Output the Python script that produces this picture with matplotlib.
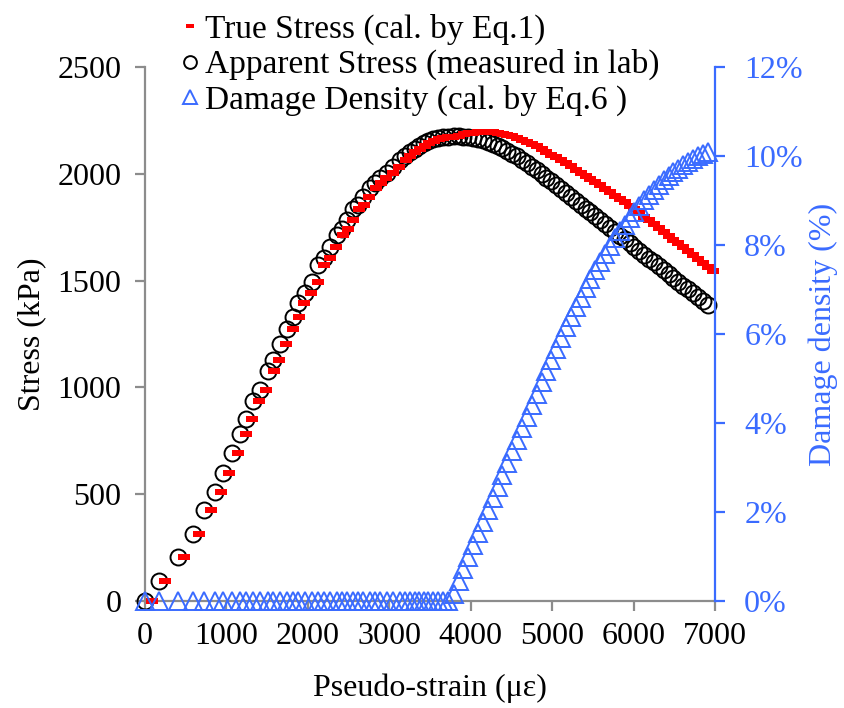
import numpy as np
import matplotlib
matplotlib.use('Agg')
import matplotlib.pyplot as plt
from matplotlib.ticker import FuncFormatter

plt.rcParams['font.family'] = ['Liberation Serif', 'DejaVu Serif']

# 数据--视应变 / 应力 / 损伤密度
strain_app = [0, 170, 400, 590, 730, 860, 960, 1068, 1167, 1240, 1326, 1412, 1510, 1572, 1658,
              1744, 1818, 1880, 1965, 2051, 2125, 2198, 2272, 2358, 2419, 2481, 2554, 2616, 2677,
              2763, 2825, 2886, 2972, 3046, 3132, 3193, 3254, 3310, 3370, 3425, 3480, 3540, 3600,
              3660, 3720, 3790, 3850, 3910, 3970, 4030, 4090, 4150, 4210, 4270, 4330, 4390, 4450,
              4510, 4570, 4630, 4690, 4750, 4810, 4870, 4930, 4990, 5050, 5110, 5170, 5230, 5290,
              5350, 5410, 5470, 5530, 5590, 5650, 5710, 5770, 5830, 5890, 5950, 6010, 6070, 6130,
              6190, 6250, 6310, 6370, 6430, 6490, 6550, 6610, 6670, 6730, 6790, 6850, 6910]
stress_app = [0, 95, 206, 314, 426, 510, 600, 693, 782, 852, 935, 990, 1078, 1128, 1205,
              1273, 1330, 1395, 1440, 1494, 1572, 1606, 1657, 1713, 1740, 1784, 1835, 1856, 1890,
              1935, 1958, 1978, 2005, 2032, 2065, 2085, 2103, 2118, 2132, 2144, 2153, 2161, 2167,
              2171, 2174, 2175, 2175, 2174, 2171, 2167, 2162, 2156, 2149, 2140, 2131, 2120, 2108,
              2095, 2081, 2066, 2050, 2034, 2018, 2000, 1982, 1964, 1946, 1928, 1910, 1891, 1873,
              1855, 1837, 1819, 1801, 1783, 1765, 1747, 1729, 1711, 1693, 1675, 1657, 1639, 1621,
              1603, 1585, 1567, 1549, 1531, 1513, 1495, 1477, 1459, 1441, 1423, 1405, 1387]

strain_true = [80, 245, 475, 665, 805, 935, 1035, 1143, 1242, 1315, 1400, 1486, 1584, 1646, 1732,
               1816, 1890, 1952, 2036, 2122, 2195, 2268, 2342, 2428, 2489, 2551, 2623, 2685, 2746,
               2832, 2894, 2955, 3040, 3114, 3200, 3260, 3321, 3377, 3436, 3491, 3546, 3605, 3665,
               3725, 3785, 3854, 3913, 3973, 4032, 4092, 4152, 4211, 4271, 4331, 4391, 4450, 4510,
               4570, 4630, 4690, 4750, 4810, 4870, 4930, 4990, 5050, 5110, 5170, 5230, 5290, 5350,
               5410, 5470, 5530, 5590, 5650, 5710, 5770, 5830, 5890, 5950, 6010, 6070, 6130, 6190,
               6250, 6310, 6370, 6430, 6490, 6550, 6610, 6670, 6730, 6790, 6850, 6910, 6970]
stress_true = [0, 95, 206, 314, 426, 510, 600, 693, 782, 852, 935, 990, 1078, 1128, 1205,
               1273, 1330, 1395, 1440, 1494, 1572, 1606, 1657, 1713, 1740, 1784, 1835, 1856, 1890,
               1935, 1958, 1978, 2005, 2032, 2065, 2085, 2103, 2118, 2132, 2144, 2153, 2161, 2167,
               2171, 2174, 2178, 2185, 2190, 2192, 2194, 2195, 2195, 2194, 2191, 2187, 2182, 2175,
               2168, 2159, 2149, 2139, 2128, 2117, 2103, 2090, 2077, 2063, 2049, 2035, 2020, 2005,
               1991, 1976, 1961, 1946, 1930, 1914, 1898, 1882, 1866, 1849, 1833, 1816, 1799, 1782,
               1764, 1746, 1729, 1711, 1692, 1674, 1656, 1637, 1619, 1600, 1581, 1562, 1543]

damage = [0, 0, 0, 0, 0, 0, 0, 0, 0, 0, 0, 0, 0, 0, 0,
          0, 0, 0, 0, 0, 0, 0, 0, 0, 0, 0, 0, 0, 0,
          0, 0, 0, 0, 0, 0, 0, 0, 0, 0, 0, 0, 0, 0,
          0, 0, 0.15, 0.45, 0.72, 0.98, 1.25, 1.52, 1.78, 2.05, 2.31, 2.57, 2.84, 3.10,
          3.36, 3.62, 3.88, 4.14, 4.40, 4.66, 4.92, 5.17, 5.42, 5.67, 5.91, 6.15, 6.38, 6.60,
          6.82, 7.03, 7.23, 7.43, 7.62, 7.80, 7.98, 8.15, 8.31, 8.46, 8.61, 8.75, 8.88, 9.01,
          9.13, 9.24, 9.35, 9.45, 9.54, 9.63, 9.71, 9.79, 9.86, 9.93, 9.99, 10.04, 10.09]

labels = ['True Stress (cal. by Eq.1)', 'Apparent Stress (measured in lab)',
          'Damage Density (cal. by Eq.6 )']

gray = '#8c8c8c'
blue = '#3a6bff'

fig = plt.figure(figsize=(8.44, 7.08), dpi=100)
ax = fig.add_axes([145 / 844, 1 - 601 / 708, 570 / 844, 534 / 708])

# 红色短横--真应力
dash = [(-1, -0.55), (1, -0.55), (1, 0.55), (-1, 0.55)]
h_app, = ax.plot(strain_app, stress_app, linestyle='none', marker='o', markersize=11.5,
                 markerfacecolor='none', markeredgecolor='black', markeredgewidth=1.4,
                 clip_on=False, zorder=2)
h_true, = ax.plot(strain_true, stress_true, linestyle='none', marker=dash, markersize=8,
                  color='#ff0000', markeredgewidth=0, clip_on=False, zorder=3)

ax.set_xlim(0, 7000)
ax.set_ylim(0, 2500)
ax.set_xticks(range(0, 7001, 1000))
ax.set_yticks(range(0, 2501, 500))
for s in ['top', 'right']:
    ax.spines[s].set_visible(False)
for s in ['left', 'bottom']:
    ax.spines[s].set_color(gray)
    ax.spines[s].set_linewidth(1.6)
ax.tick_params(axis='both', colors=gray, width=1.6, length=7, labelsize=23,
               labelcolor='black', direction='out')
ax.tick_params(axis='y', pad=10)
ax.tick_params(axis='x', pad=8)
ax.set_xlabel('Pseudo-strain (με)', fontsize=23, labelpad=16)
ax.set_ylabel('Stress (kPa)', fontsize=23, labelpad=8)

# 副坐标轴--损伤密度
ax2 = ax.twinx()
h_dmg, = ax2.plot(strain_app, damage, linestyle='none', marker='^', markersize=13,
                  markerfacecolor='none', markeredgecolor=blue, markeredgewidth=1.4,
                  clip_on=False, zorder=4)
ax2.set_ylim(0, 12)
ax2.set_yticks(range(0, 13, 2))
ax2.yaxis.set_major_formatter(FuncFormatter(lambda v, p: '%d%%' % v))
for s in ['top', 'left', 'bottom']:
    ax2.spines[s].set_visible(False)
ax2.spines['right'].set_color(blue)
ax2.spines['right'].set_linewidth(1.6)
ax2.tick_params(axis='y', colors=blue, width=1.6, length=7, labelsize=23, pad=14)
ax2.set_ylabel('Damage density (%)', fontsize=23, color=blue, labelpad=4)

fig.legend([h_true, h_app, h_dmg], labels, loc='upper left',
           bbox_to_anchor=(162 / 844, 1 + 6 / 708), frameon=False, fontsize=24,
           handlelength=0.5, handletextpad=0.2, labelspacing=0.12, borderpad=0.1,
           markerscale=0.8)

plt.savefig('out.png', dpi=100)
